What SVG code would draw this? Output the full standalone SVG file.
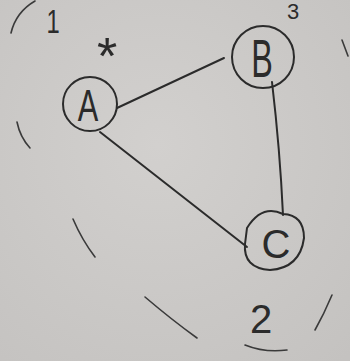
<svg xmlns="http://www.w3.org/2000/svg" width="350" height="361" viewBox="0 0 350 361">
<defs>
<radialGradient id="bg" cx="0.45" cy="0.4" r="0.8">
<stop offset="0" stop-color="#d2d0ce"/>
<stop offset="1" stop-color="#c4c2c0"/>
</radialGradient>
</defs>
<style>
.ink{fill:none;stroke:#2b2b2b;stroke-width:2;stroke-linecap:round;stroke-linejoin:round}
.thin{fill:none;stroke:#3a3a3a;stroke-width:1.6;stroke-linecap:round}
.lbl{font-family:"Liberation Sans",Arial,sans-serif;fill:#2b2b2b;text-anchor:middle}
</style>
<rect width="350" height="361" fill="url(#bg)"/>
<g id="boundary">
<path class="thin" d="M11,33 Q16,12 35,1"/>
<path class="thin" d="M17,122 Q20,137 30,148"/>
<path class="thin" d="M73,219 Q82,240 95,257"/>
<path class="thin" d="M145,297 Q172,320 197,338"/>
<path class="thin" d="M245,345 Q265,353 287,350"/>
<path class="thin" d="M315,330 Q324,314 332,295"/>
<path class="thin" d="M342,40 Q345,48 348,56"/>
</g>
<g id="connectors">
<path class="ink" d="M117,108 L224,58"/>
<path class="ink" d="M100,132 L247,247"/>
<path class="ink" d="M272,82 Q280,150 283,215"/>
</g>
<g id="node-A">
<circle class="ink" cx="90" cy="104" r="27"/>
<text class="lbl" font-size="44" transform="translate(88,121) scale(0.7,1)">A</text>
</g>
<g id="node-B">
<circle class="ink" cx="263" cy="57" r="31"/>
<text class="lbl" font-size="54" transform="translate(262,77) scale(0.6,1)">B</text>
</g>
<g id="node-C">
<path class="ink" d="M247,228 Q262,204 283,214 Q304,215 304,238 Q300,268 270,270 Q243,268 245,244 Z"/>
<text class="lbl" font-size="40" transform="translate(276,258)">C</text>
</g>
<g id="labels">
<text class="lbl" font-size="34" transform="translate(53,33) scale(0.7,1)">1</text>
<text class="lbl" font-size="52" x="107" y="74">*</text>
<text class="lbl" font-size="22" x="293" y="19">3</text>
<text class="lbl" font-size="40" x="261" y="333">2</text>
</g>
</svg>
